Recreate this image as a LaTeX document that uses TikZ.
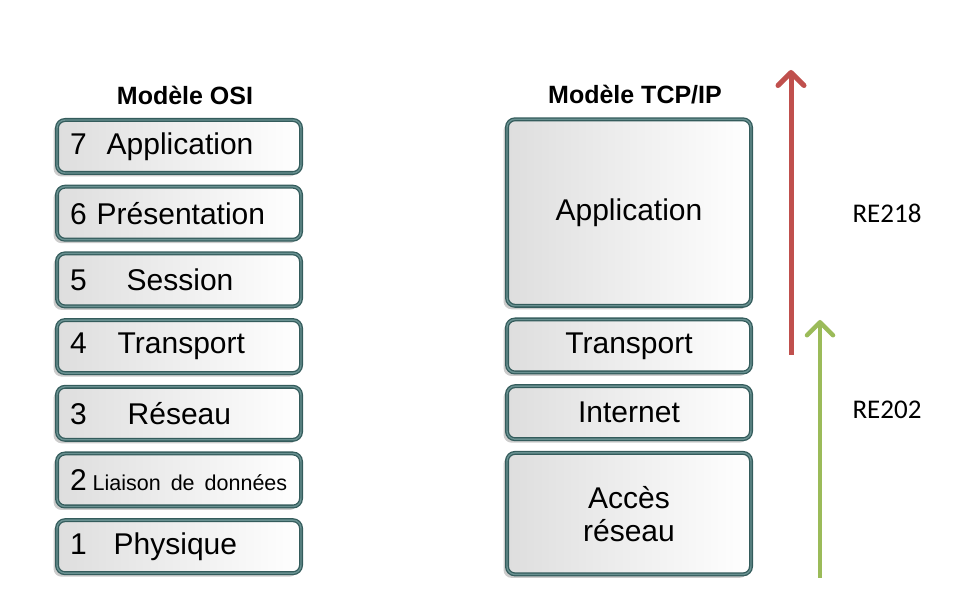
\documentclass[tikz,border=0pt]{standalone}
\usepackage{fontspec}
\setmainfont{Liberation Sans}
\newfontfamily\calibri{Carlito}
\usetikzlibrary{positioning}
\usetikzlibrary{shadows}
\usetikzlibrary{arrows.meta}
\definecolor{layerborder}{RGB}{52,92,92}
\definecolor{layerinner}{RGB}{105,145,145}
\definecolor{upred}{RGB}{192,80,77}
\definecolor{upgreen}{RGB}{155,187,89}
\tikzset{
	node distance = 9.7pt and 1cm,
	layer/.style = {draw=layerborder, line width=1.3pt, double=layerinner, double distance=1.4pt,
		outer sep=2pt, rounded corners=8pt, left color=black!13, right color=white,
		drop shadow={shadow xshift=-3.5pt, shadow yshift=-3.5pt, opacity=.4},
		minimum width=244pt, minimum height=53pt, font=\fontsize{30}{33}\selectfont},
	osi/.style = {layer, text width=218pt, inner xsep=13pt, align=left},
	tcp/.style = {layer, align=center},
	title/.style = {font=\bfseries\fontsize{25}{28}\selectfont},
	course/.style = {font=\calibri\fontsize{27}{30}\selectfont},
	up/.style = {line width=5pt, -{Straight Barb[length=13pt,width=26pt,round]}}
}
\newcommand{\layernum}[3]{#1\hspace{#2}#3}

\begin{document}
\begin{tikzpicture}[x=1pt, y=1pt]
	\useasboundingbox (0,0) rectangle (956,602);

	% Titles
	\node[title] (osititle) at (185,507) {Modèle OSI};
	\node[title] (tcptitle) at (635,507) {Modèle TCP/IP};

	% OSI model
	\node (l7) [osi] at (179,455.5) {\layernum{7}{20pt}{Application}};
	\node (l6) [osi, below = of l7] {\layernum{6}{10pt}{Présentation}};
	\node (l5) [osi, below = of l6] {\layernum{5}{40pt}{Session}};
	\node (l4) [osi, below = of l5] {\layernum{4}{31pt}{Transport}};
	\node (l3) [osi, below = of l4] {\layernum{3}{41pt}{Réseau}};
	\node (l2) [osi, below = of l3] {\mbox{\layernum{2}{6pt}{\fontsize{21.5}{25}\selectfont Liaison de données}}};
	\node (l1) [osi, below = of l2] {\layernum{1}{27pt}{Physique}};

	% TCP/IP model
	\node (transport) [tcp] at (629,256) {Transport};
	\node (application) [tcp, minimum height=186.5pt, above = of transport] {Application};
	\node (internet) [tcp, below = of transport] {Internet};
	\node (acces) [tcp, minimum height=121.5pt, below = of internet] {Accès\\réseau};

	% Courses
	\coordinate (redfrom) at (791,247);
	\coordinate (redto) at (791,532);
	\coordinate (greenfrom) at (820,24);
	\coordinate (greento) at (820,282);
	\draw[up, upred] (redfrom) -- (redto);
	\draw[up, upgreen, line width=4.5pt] (greenfrom) -- (greento);
	\node[course] (re218) at (887,389) {RE218};
	\node[course] (re202) at (887,192) {RE202};
\end{tikzpicture}
\end{document}
